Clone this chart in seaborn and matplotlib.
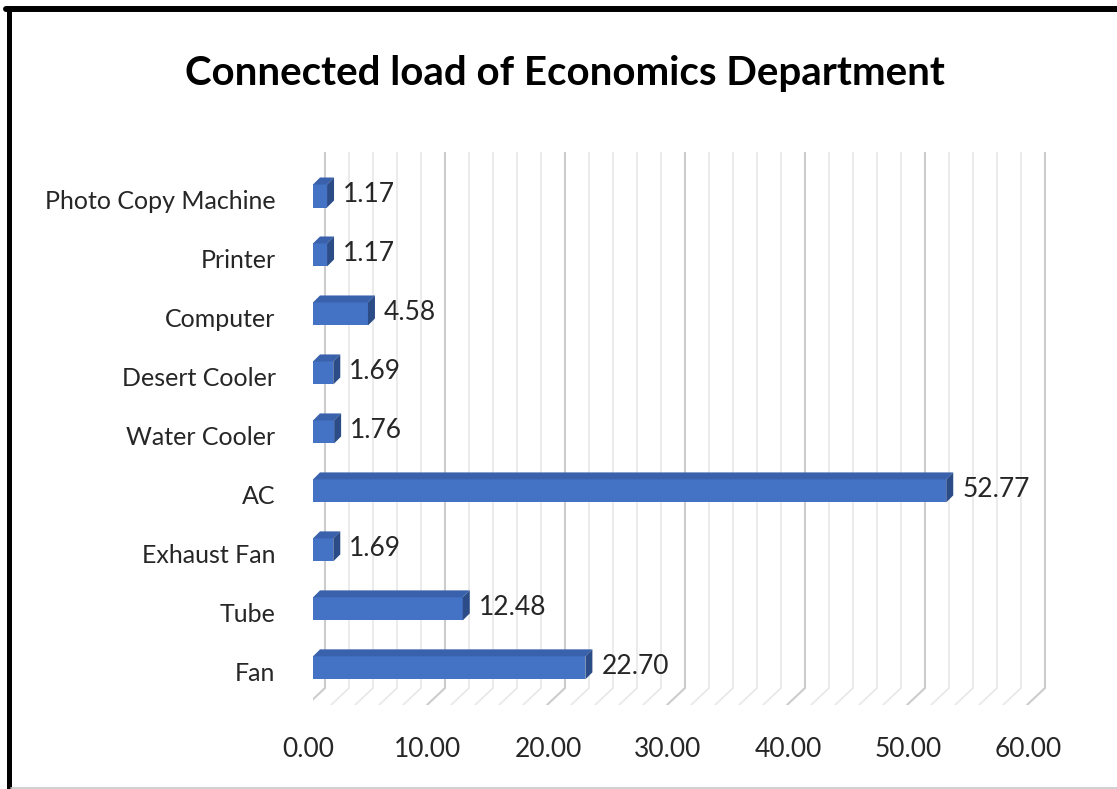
import matplotlib
matplotlib.use('Agg')
import matplotlib.pyplot as plt
import matplotlib.transforms as mtransforms
from matplotlib.patches import Polygon
from matplotlib.lines import Line2D
import seaborn as sns

# Chart data
categories = ['Photo Copy Machine', 'Printer', 'Computer', 'Desert Cooler', 'Water Cooler',
              'AC', 'Exhaust Fan', 'Tube', 'Fan']
values = [1.17, 1.17, 4.58, 1.69, 1.76, 52.77, 1.69, 12.48, 22.70]
x_ticks = [0, 10, 20, 30, 40, 50, 60]
title = 'Connected load of Economics Department'

sns.set_theme(style='white')
plt.rcParams['font.family'] = ['Lato', 'DejaVu Sans']

W, H = 1117, 789
fig = plt.figure(figsize=(W / 100, H / 100), dpi=100)
fig.patch.set_facecolor('white')

# axes placed so that x=0 sits at the bar front edge
ax = fig.add_axes([313 / W, 1 - 705 / H, 744 / W, (705 - 152) / H])
ax.set_facecolor('white')

front = '#4472C4'
top_c = '#3A62AC'
side_c = '#2C4C88'

sns.barplot(x=values, y=categories, orient='h', color=front, saturation=1,
            width=0.39, ax=ax, zorder=3, linewidth=0)

ax.set_xlim(0, 62)
y_top, y_bot = -0.746, 8.63
ax.set_ylim(y_bot, y_top)

# px -> data conversions (12 px per unit in x, 59 px per category in y)
px_x = 1 / 12
px_y = 1 / 59
dx, dy = 7 * px_x, 7 * px_y

# back wall grid and floor
y_back_bot = y_bot - 17 * px_y
for v in range(0, 62, 2):
    major = v % 10 == 0
    col = '#cccccc' if major else '#e6e6e6'
    lw = 1.5 if major else 1.1
    xb = v + 12 * px_x
    ax.plot([xb, xb], [y_top, y_back_bot], color=col, lw=lw, zorder=1, solid_capstyle='butt')
    ax.plot([xb, v - 6 * px_x], [y_back_bot, y_bot], color=col, lw=lw, zorder=1)

# 3d faces of bars
for p, val in zip(ax.patches, values):
    x0, w = p.get_x(), p.get_width()
    y0, h = p.get_y(), p.get_height()
    top = Polygon([(x0, y0), (x0 + w, y0), (x0 + w + dx, y0 - dy), (x0 + dx, y0 - dy)],
                  closed=True, facecolor=top_c, edgecolor='none', zorder=3)
    side = Polygon([(x0 + w, y0), (x0 + w + dx, y0 - dy), (x0 + w + dx, y0 + h - dy), (x0 + w, y0 + h)],
                   closed=True, facecolor=side_c, edgecolor='none', zorder=3)
    ax.add_patch(top)
    ax.add_patch(side)
    ax.annotate(f'{val:.2f}', xy=(x0 + w + dx, y0 + h / 2 - dy / 2), xytext=(9, -2),
                textcoords='offset pixels', ha='left', va='center',
                fontsize=19, color='#262626', zorder=4)

ax.set_xticks(x_ticks)
ax.set_xticklabels([f'{t:.2f}' for t in x_ticks], fontsize=19, color='#262626')
ax.tick_params(axis='x', length=0, pad=23)
ax.tick_params(axis='y', length=0, pad=27, labelsize=18, labelcolor='#262626')
off = mtransforms.ScaledTranslation(-5 / 100, 0, fig.dpi_scale_trans)
for lab in ax.get_xticklabels():
    lab.set_transform(lab.get_transform() + off)
yoff = mtransforms.ScaledTranslation(0, -4 / 100, fig.dpi_scale_trans)
for lab in ax.get_yticklabels():
    lab.set_transform(lab.get_transform() + yoff)
ax.set_xlabel('')
ax.set_ylabel('')
sns.despine(ax=ax, left=True, bottom=True)

fig.text(565 / W, 1 - 85 / H, title, ha='center', va='baseline',
         fontsize=29, fontweight='bold', color='black')

# outer frame
fig.add_artist(Line2D([8.5 / W, 8.5 / W], [0, 1 - 9 / H], color='black', lw=3.6,
                      transform=fig.transFigure))
fig.add_artist(Line2D([6 / W, 1], [1 - 9 / H, 1 - 9 / H], color='black', lw=4.3,
                      transform=fig.transFigure))
fig.add_artist(Line2D([11 / W, 1], [1 - 787.5 / H, 1 - 787.5 / H], color='#c8c8c8', lw=1.2,
                      transform=fig.transFigure))

fig.savefig('out.png', dpi=100)
